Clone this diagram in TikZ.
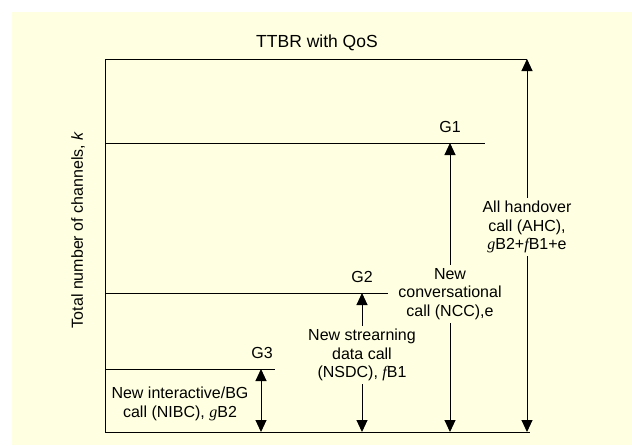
\documentclass[tikz,border=0pt]{standalone}
\usepackage{fontspec}
\setmainfont{Liberation Sans}
\newfontfamily\serifrm{Liberation Serif}
\usetikzlibrary{arrows.meta}
\definecolor{bgyellow}{RGB}{255,255,225}
\newcommand{\gv}{{\serifrm\itshape g}}
\newcommand{\fv}{{\serifrm\itshape f}}
\begin{document}
\begin{tikzpicture}[x=1pt,y=-1pt,
  every node/.style={font=\fontsize{16}{18.5}\selectfont, text=black},
  ln/.style={line width=1pt, draw=black},
  dbl/.style={ln, {Triangle[length=12pt,width=11pt]}-{Triangle[length=12pt,width=11pt]}},
  lbl/.style={fill=bgyellow, align=center, inner sep=3pt},
  plain/.style={align=center, inner sep=1pt}]
\useasboundingbox (0,0) rectangle (632,445);
\fill[bgyellow] (12,12) rectangle (632,445);
% frame
\coordinate (tl) at (105,59);
\coordinate (tr) at (527,59);
\coordinate (bl) at (105,432);
\coordinate (br) at (530,432);
\draw[ln] (tr) -- (tl) -- (bl) -- (br);
% group levels
\coordinate (g1l) at (105,143); \coordinate (g1r) at (485,143);
\coordinate (g2l) at (105,293); \coordinate (g2r) at (388,293);
\coordinate (g3l) at (105,369); \coordinate (g3r) at (275,369);
\draw[ln] (g1l) -- (g1r);
\draw[ln] (g2l) -- (g2r);
\draw[ln] (g3l) -- (g3r);
% arrow ends
\coordinate (ahcT) at (527,59);  \coordinate (ahcB) at (527,432);
\coordinate (nccT) at (450,143); \coordinate (nccB) at (450,432);
\coordinate (nsdT) at (362,293); \coordinate (nsdB) at (362,432);
\coordinate (nibT) at (261,369); \coordinate (nibB) at (261,432);
\draw[dbl] (ahcT) -- (ahcB);
\draw[dbl] (nccT) -- (nccB);
\draw[dbl] (nsdT) -- (nsdB);
\draw[dbl] (nibT) -- (nibB);
% texts
\node[plain, font=\fontsize{17.5}{20}\selectfont] (title) at (317,43) {TTBR with QoS};
\node[plain] (G1) at (450,127) {G1};
\node[plain] (G2) at (362,277) {G2};
\node[plain] (G3) at (262,353) {G3};
\node[lbl] (ahc) at (527,227) {All handover\\call (AHC),\\\gv B2+\fv B1+e};
\node[lbl] (ncc) at (450,294) {New\\conversational\\call (NCC),e};
\node[lbl] (nsdc) at (362,355) {New strearning\\data call\\(NSDC), \fv B1};
\node[plain] (nibc) at (180,404) {New interactive/BG\\call (NIBC), \gv B2};
\node[plain, rotate=90] (ylab) at (78,230) {Total number of channels, \textit{k}};
\end{tikzpicture}
\end{document}
